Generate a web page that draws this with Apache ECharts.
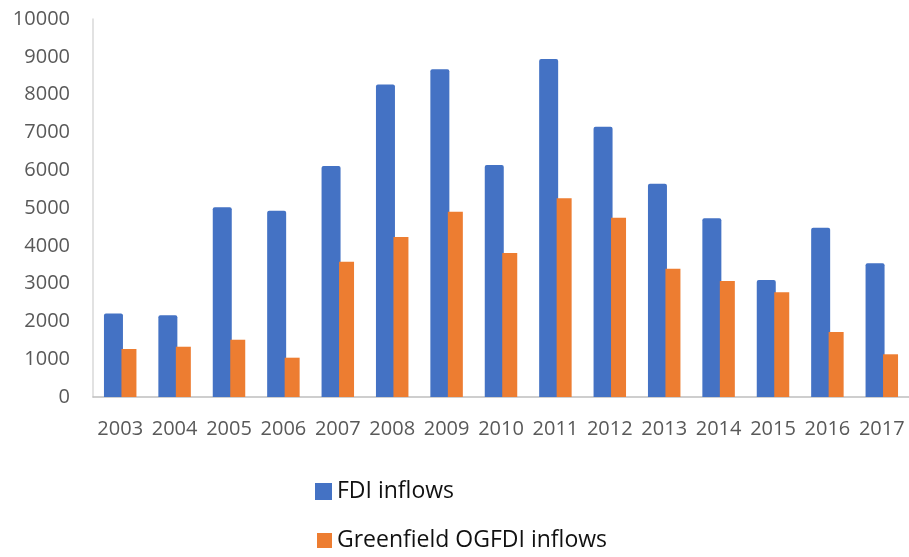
<!DOCTYPE html>
<html>
<head>
<meta charset="utf-8">
<script src="https://cdn.jsdelivr.net/npm/echarts@6/dist/echarts.min.js"></script>
<style>
  html, body { margin: 0; padding: 0; background: #fff; }
  #chart { width: 909px; height: 557px; }
</style>
</head>
<body>
<div id="chart"></div>
<script>
// Years on the category axis
const years = ['2003','2004','2005','2006','2007','2008','2009','2010','2011','2012','2013','2014','2015','2016','2017'];
// Total FDI inflows per year
const fdiInflows = [2210, 2160, 5020, 4930, 6110, 8270, 8670, 6140, 8940, 7150, 5640, 4730, 3095, 4480, 3540];
// Greenfield OGFDI inflows per year
const greenfieldInflows = [1270, 1330, 1515, 1040, 3580, 4230, 4900, 3810, 5260, 4740, 3390, 3070, 2770, 1720, 1130];
// Value axis ticks
const yTicks = [0, 1000, 2000, 3000, 4000, 5000, 6000, 7000, 8000, 9000, 10000];

const FONT = '"Open Sans", "Liberation Sans", sans-serif';
const TEXT = '#595959';

const chart = echarts.init(document.getElementById('chart'), null, { renderer: 'canvas' });

// One legend per series so the two entries stack vertically
function legendFor(name, left, top, size) {
  return {
    orient: 'vertical',
    left: left,
    top: top,
    padding: 0,
    itemWidth: size,
    itemHeight: size,
    icon: 'rect',
    selectedMode: false,
    textStyle: { color: '#111111', fontSize: 23, fontFamily: FONT },
    data: [name]
  };
}

chart.setOption({
  animation: false,
  textStyle: { fontFamily: FONT },
  grid: { left: 93, right: 0, top: 19, bottom: 160, containLabel: false },
  legend: [
    legendFor('FDI inflows', 315, 480, 17),
    legendFor('Greenfield OGFDI inflows', 317, 529, 15)
  ],
  xAxis: {
    type: 'category',
    data: years,
    axisLine: { lineStyle: { color: '#BFBFBF', width: 1.5 } },
    axisTick: { show: false },
    axisLabel: { color: TEXT, fontSize: 20, margin: 22, interval: 0, fontFamily: FONT }
  },
  yAxis: {
    type: 'value',
    min: yTicks[0],
    max: yTicks[yTicks.length - 1],
    interval: yTicks[1] - yTicks[0],
    axisLine: { show: true, lineStyle: { color: '#D9D9D9', width: 1.5 } },
    axisTick: { show: false },
    splitLine: { show: false },
    axisLabel: {
      color: TEXT, fontSize: 20, margin: 23, fontFamily: FONT,
      formatter: function (v) { return String(v); }
    }
  },
  series: [
    {
      name: 'FDI inflows',
      type: 'bar',
      data: fdiInflows,
      barWidth: 19,
      barGap: '-8%',
      itemStyle: { color: '#4472C4', borderRadius: [2, 2, 0, 0] }
    },
    {
      name: 'Greenfield OGFDI inflows',
      type: 'bar',
      data: greenfieldInflows,
      barWidth: 15,
      barGap: '-8%',
      itemStyle: { color: '#ED7D31' }
    }
  ]
});
</script>
</body>
</html>
